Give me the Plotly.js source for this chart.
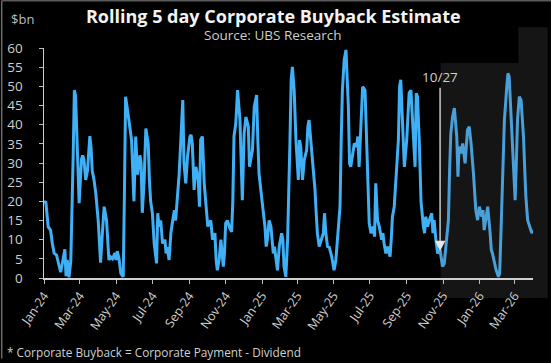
<!DOCTYPE html>
<html>
<head>
<meta charset="utf-8">
<script src="https://cdn.plot.ly/plotly-3.0.1.min.js"></script>
<style>
html,body{margin:0;padding:0;background:#000;}
#chart{width:551px;height:363px;}
</style>
</head>
<body>
<div id="chart"></div>
<script>
// Dates of the rolling 5-day estimate (sampled roughly twice a week)
const dates = [
"2024-01-01","2024-01-04","2024-01-08","2024-01-10","2024-01-12",
"2024-01-15","2024-01-18","2024-01-22","2024-01-24","2024-01-26",
"2024-01-29","2024-02-01","2024-02-05","2024-02-07","2024-02-09",
"2024-02-12","2024-02-15","2024-02-19","2024-02-21","2024-02-23",
"2024-02-26","2024-02-29","2024-03-04","2024-03-06","2024-03-08",
"2024-03-11","2024-03-14","2024-03-18","2024-03-20","2024-03-22",
"2024-03-25","2024-03-28","2024-04-01","2024-04-03","2024-04-05",
"2024-04-08","2024-04-11","2024-04-15","2024-04-17","2024-04-19",
"2024-04-22","2024-04-25","2024-04-29","2024-05-01","2024-05-03",
"2024-05-06","2024-05-09","2024-05-13","2024-05-15","2024-05-17",
"2024-05-20","2024-05-23","2024-05-27","2024-05-29","2024-05-31",
"2024-06-03","2024-06-06","2024-06-10","2024-06-12","2024-06-14",
"2024-06-17","2024-06-20","2024-06-24","2024-06-26","2024-06-28",
"2024-07-01","2024-07-04","2024-07-08","2024-07-10","2024-07-12",
"2024-07-15","2024-07-18","2024-07-22","2024-07-24","2024-07-26",
"2024-07-29","2024-08-01","2024-08-05","2024-08-07","2024-08-09",
"2024-08-12","2024-08-15","2024-08-19","2024-08-21","2024-08-23",
"2024-08-26","2024-08-29","2024-09-02","2024-09-04","2024-09-06",
"2024-09-09","2024-09-12","2024-09-16","2024-09-18","2024-09-20",
"2024-09-23","2024-09-26","2024-09-30","2024-10-02","2024-10-04",
"2024-10-07","2024-10-10","2024-10-14","2024-10-16","2024-10-18",
"2024-10-21","2024-10-24","2024-10-28","2024-10-30","2024-11-01",
"2024-11-04","2024-11-07","2024-11-11","2024-11-13","2024-11-15",
"2024-11-18","2024-11-21","2024-11-25","2024-11-27","2024-11-29",
"2024-12-02","2024-12-05","2024-12-09","2024-12-11","2024-12-13",
"2024-12-16","2024-12-19","2024-12-23","2024-12-25","2024-12-27",
"2024-12-30","2025-01-02","2025-01-06","2025-01-08","2025-01-10",
"2025-01-13","2025-01-16","2025-01-20","2025-01-22","2025-01-24",
"2025-01-27","2025-01-30","2025-02-03","2025-02-05","2025-02-07",
"2025-02-10","2025-02-13","2025-02-17","2025-02-19","2025-02-21",
"2025-02-24","2025-02-27","2025-03-03","2025-03-05","2025-03-07",
"2025-03-10","2025-03-13","2025-03-17","2025-03-19","2025-03-21",
"2025-03-24","2025-03-27","2025-03-31","2025-04-02","2025-04-04",
"2025-04-07","2025-04-10","2025-04-14","2025-04-16","2025-04-18",
"2025-04-21","2025-04-24","2025-04-28","2025-04-30","2025-05-02",
"2025-05-05","2025-05-08","2025-05-12","2025-05-14","2025-05-16",
"2025-05-19","2025-05-22","2025-05-26","2025-05-28","2025-05-30",
"2025-06-02","2025-06-05","2025-06-09","2025-06-11","2025-06-13",
"2025-06-16","2025-06-19","2025-06-23","2025-06-25","2025-06-27",
"2025-06-30","2025-07-03","2025-07-07","2025-07-09","2025-07-11",
"2025-07-14","2025-07-17","2025-07-21","2025-07-23","2025-07-25",
"2025-07-28","2025-07-31","2025-08-04","2025-08-06","2025-08-08",
"2025-08-11","2025-08-14","2025-08-18","2025-08-20","2025-08-22",
"2025-08-25","2025-08-28","2025-09-01","2025-09-03","2025-09-05",
"2025-09-08","2025-09-11","2025-09-15","2025-09-17","2025-09-19",
"2025-09-22","2025-09-25","2025-09-29","2025-10-01","2025-10-03",
"2025-10-06","2025-10-09","2025-10-13","2025-10-15","2025-10-17",
"2025-10-20","2025-10-23","2025-10-27","2025-10-29","2025-10-31",
"2025-11-03","2025-11-06","2025-11-10","2025-11-12","2025-11-14",
"2025-11-17","2025-11-20","2025-11-24","2025-11-26","2025-11-28",
"2025-12-01","2025-12-04","2025-12-08","2025-12-10","2025-12-12",
"2025-12-15","2025-12-18","2025-12-22","2025-12-24","2025-12-26",
"2025-12-29","2026-01-01","2026-01-05","2026-01-07","2026-01-09",
"2026-01-12","2026-01-15","2026-01-19","2026-01-21","2026-01-23",
"2026-01-26","2026-01-29","2026-02-02","2026-02-04","2026-02-06",
"2026-02-09","2026-02-12","2026-02-16","2026-02-18","2026-02-20",
"2026-02-23","2026-02-26","2026-03-02","2026-03-04","2026-03-06",
"2026-03-09","2026-03-12","2026-03-16","2026-03-18","2026-03-20",
"2026-03-23","2026-03-26","2026-03-30","2026-04-01"
];

// Buyback estimate, $bn
const buyback = [
19.5,
20, 13.4, 13, 12.5, 9, 6.5, 6, 4.7, 3.8, 1.5,
4, 7.5, 0.5, 4.7, 0.2, 4.5, 32, 49, 47.5, 32,
19.5, 31, 32, 31, 25.6, 28, 37, 34, 28, 25.6,
22, 15, 9, 4, 11.7, 18.6, 15, 8.2, 4.7, 5.5,
5, 6.5, 4.7, 7, 5, 1.2, 0.3, 22, 47.3, 44,
40, 36, 28, 20, 36.9, 27, 32, 30, 17, 25,
39, 35, 25.6, 20, 16.9, 9, 3.8, 16.9, 13.4, 15,
9, 10, 6.4, 8, 4.7, 11.7, 16, 17.7, 15, 20.3,
27.3, 40, 46.4, 30, 24.7, 31.7, 36.9, 37.3, 35, 23,
29, 25.6, 18.6, 36, 36.9, 24.7, 16.9, 13.4, 14.3, 15,
10, 11.7, 4.7, 2, 4.7, 10, 3, 6.4, 14.3, 15,
13.4, 12, 20, 37, 40.3, 49, 41.2, 29, 20.3, 37.7,
42, 39.5, 29, 30.8, 33.4, 44.7, 47.7, 36, 27.3, 23,
18.6, 13.4, 8.2, 10, 15, 13.4, 6.4, 8.2, 5.6, 2,
8.2, 11.7, 10, 3, 0.3, 10, 36, 51.7, 55.1, 49,
36, 25.6, 36, 34.3, 25.6, 30.8, 33.4, 39.5, 41.2, 36,
29, 23, 16.9, 11.7, 8.2, 10, 11.7, 16.9, 12, 8.2,
8, 5.6, 3, 2, 4.7, 10, 18.6, 36, 49, 56.9,
59.5, 44.7, 29.9, 29, 31.7, 35.1, 34.3, 36.9, 29, 40.3,
49.9, 49, 37.7, 24.7, 14.3, 11.7, 13.4, 10.8, 24.7, 15,
13.4, 10, 11.7, 9, 6.4, 8.2, 5.6, 10, 16, 18.6,
25.6, 36, 49.9, 51.7, 40.3, 29, 36, 44.7, 48.2, 49,
40.3, 29, 48.2, 47.3, 36, 20, 13.4, 11.7, 16, 13.4,
15.1, 16.9, 11.7, 15.1, 9.9, 6.4, 7.3, 4.7, 3, 3.8,
8.2, 15.1, 28.2, 37.7, 42.1, 44.3, 36.9, 26.4, 34.3, 32.5,
35.1, 29.9, 34.3, 38.6, 39.5, 35.1, 27.3, 20.3, 17.7, 15.1,
18.6, 16, 17.7, 12.5, 15.1, 18.6, 11.7, 7.3, 6.4, 3.8,
2.1, 0.3, 1.2, 10.8, 25.6, 41.2, 49.9, 53.4, 52.5, 42.1,
30.8, 20.3, 29.9, 41.2, 47.3, 46.4, 36.9, 28.2, 21.2, 15.1,
13.4, 11.7, 12.5
];

const splitDate = "2025-10-27";
const splitLabel = "10/27";
const arrowValue = 7;
const yTicks = [0,5,10,15,20,25,30,35,40,45,50,55,60];

const titleText = "Rolling 5 day Corporate Buyback Estimate";
const subtitleText = "Source: UBS Research";
const unitText = "$bn";
const noteText = "* Corporate Buyback = Corporate Payment - Dividend";

const n = Math.min(dates.length, buyback.length);
const si = dates.indexOf(splitDate);

const font = "Open Sans, Noto Sans, sans-serif";
const textCol = "#cfcfcf";

const traces = [
  {x: dates.slice(0, si + 1), y: buyback.slice(0, si + 1), type: "scatter", mode: "lines",
   line: {color: "#3fb0f6", width: 3}, hoverinfo: "skip"},
  {x: dates.slice(si, n), y: buyback.slice(si, n), type: "scatter", mode: "lines",
   line: {color: "#4a9fd8", width: 3}, hoverinfo: "skip"}
];

const layout = {
  width: 551, height: 363,
  margin: {l: 44, r: 18, t: 48, b: 85},
  paper_bgcolor: "#000", plot_bgcolor: "rgba(0,0,0,0)",
  showlegend: false,
  font: {family: font, color: textCol},
  title: {text: titleText, x: 0.496, xanchor: "center", y: 0.955, yanchor: "middle",
          xref: "container", yref: "container",
          font: {family: font, size: 18, weight: 700, color: "#f2f2f2"}},
  xaxis: {type: "date", range: ["2024-01-01", "2026-04-01"],
          tick0: "2024-01-01", dtick: "M2", tickformat: "%b-%y",
          tickangle: -55, ticks: "outside", ticklen: 4, tickcolor: "#bbb",
          showline: true, linecolor: "#cfcfcf", linewidth: 1.5,
          showgrid: false, zeroline: false,
          tickfont: {size: 12.5, color: textCol}},
  yaxis: {range: [0, 60], tickvals: yTicks, ticks: "outside", ticklen: 4, tickcolor: "#bbb",
          showline: true, linecolor: "#cfcfcf", linewidth: 1.5,
          showgrid: false, zeroline: false, ticklabelstandoff: 13,
          tickfont: {size: 13.5, color: textCol}},
  shapes: [
    {type: "rect", xref: "paper", yref: "paper", x0: 0.811, x1: 1.03, y0: -0.087, y1: 0.935,
     fillcolor: "#151515", line: {width: 0}, layer: "below"},
    {type: "rect", xref: "paper", yref: "paper", x0: 0.97, x1: 1.03, y0: 0.93, y1: 1.09,
     fillcolor: "#151515", line: {width: 0}, layer: "below"},
    {type: "line", xref: "paper", yref: "paper", x0: -0.0865, x1: -0.0865, y0: -0.35, y1: 1.205,
     line: {color: "#6a6a6a", width: 1.5}},
    {type: "line", xref: "paper", yref: "paper", x0: -0.0865, x1: 1.04, y0: 1.205, y1: 1.205,
     line: {color: "#5a5a5a", width: 1.5}}
  ],
  annotations: [
    {text: subtitleText, xref: "paper", yref: "paper", x: 0.468, y: 1.056,
     xanchor: "center", yanchor: "middle", showarrow: false,
     font: {size: 13.5, color: "#cccccc"}},
    {text: unitText, xref: "paper", yref: "paper", x: -0.072, y: 1.128,
     xanchor: "left", yanchor: "middle", showarrow: false,
     font: {size: 13, color: "#bdbdbd"}},
    {text: noteText, xref: "paper", yref: "paper", x: -0.08, y: -0.322,
     xanchor: "left", yanchor: "middle", showarrow: false,
     font: {size: 11.8, color: textCol}},
    {text: splitLabel, x: splitDate, y: arrowValue, xref: "x", yref: "y",
     showarrow: true, ax: 0, ay: -174, arrowcolor: "#e8e8e8", arrowwidth: 1.3,
     arrowhead: 2, arrowsize: 1.6, standoff: 0,
     font: {size: 13.5, color: "#cfcfcf"}}
  ]
};

Plotly.newPlot("chart", traces, layout, {staticPlot: true, displayModeBar: false});
</script>
</body>
</html>
